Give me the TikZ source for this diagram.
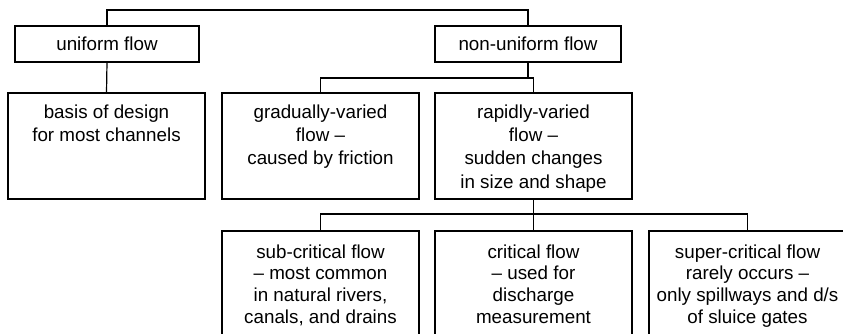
\documentclass[tikz,border=0pt]{standalone}
\usepackage{fontspec}
\setmainfont{Liberation Sans}
\begin{document}
\begin{tikzpicture}[x=1pt, y=-1pt, line width=1.2pt,
  flowbox/.style={draw, rectangle, inner sep=0pt, outer sep=0pt},
  headbox/.style={flowbox, minimum height=36pt, font=\fontsize{18.8}{22}\selectfont},
  tallbox/.style={flowbox, minimum width=197pt, minimum height=106pt},
  midtext/.style={anchor=north, align=center, inner sep=0pt, font=\fontsize{18.8}{23.3}\selectfont},
  lowtext/.style={anchor=north, align=center, inner sep=0pt, font=\fontsize{18.8}{21.6}\selectfont},
]
\useasboundingbox (0,0) rectangle (843,334);
\clip (0,0) rectangle (843,334);

% first level
\node[headbox, minimum width=184pt] (uf)  at (107,44)  {uniform flow};
\node[headbox, minimum width=186pt] (nuf) at (528,44)  {non-uniform flow};

% second level
\node[tallbox] (basis) at (106.5,146) {};
\node[tallbox] (gv)    at (320.5,146) {};
\node[tallbox] (rv)    at (533.5,146) {};
\node[midtext] (basistxt) at ([yshift=-11pt]basis.north) {basis of design\\for most channels};
\node[midtext] (gvtxt) at ([yshift=-11pt]gv.north) {gradually-varied\\flow –\\caused by friction};
\node[midtext] (rvtxt) at ([yshift=-11pt]rv.north) {rapidly-varied\\flow –\\sudden changes\\in size and shape};

% third level (runs past the lower and right edges)
\node[tallbox] (sub)  at (320.5,284) {};
\node[tallbox] (crit) at (533.5,284) {};
\node[tallbox] (sup)  at (747.5,284) {};
\node[lowtext] (subtxt)  at ([yshift=-13pt]sub.north)  {sub-critical flow\\– most common\\in natural rivers,\\canals, and drains};
\node[lowtext] (crittxt) at ([yshift=-13pt]crit.north) {critical flow\\– used for\\discharge\\measurement};
\node[lowtext] (suptxt)  at ([yshift=-13pt]sup.north)  {super-critical flow\\rarely occurs –\\only spillways and d/s\\of sluice gates};

% connectors
\draw (uf.north) -- ++(0,-16) -| (nuf.north);
\draw (uf.south) -- (basis.north);

\path (gv.north) ++(0,-15) coordinate (j1);
\draw (gv.north) -- (j1) -| (rv.north);
\draw (nuf.south) -- (nuf.south |- j1);

\path (sub.north) ++(0,-17) coordinate (j2);
\draw (sub.north) -- (j2) -| (sup.north);
\draw (rv.south) -- (rv.south |- j2);
\draw (crit.north) -- (crit.north |- j2);
\end{tikzpicture}
\end{document}
